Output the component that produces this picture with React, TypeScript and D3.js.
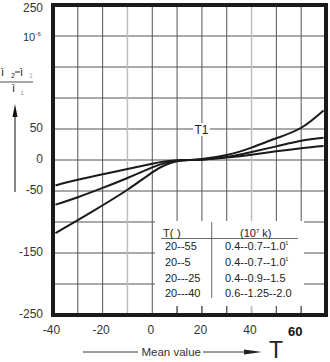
import React from "react";
import * as d3 from "d3";

const xs = [-39, -30, -20, -10, 0, 5, 10, 15, 20, 30, 40, 50, 60, 69];
const curveA = [-41, -32, -23, -14.5, -6, -2.5, -0.5, 0, 0.5, 4, 8.5, 14, 19, 22.5];
const curveB = [-72, -60, -45, -29, -12, -5, -1, 0, 1, 5, 13, 22, 31, 36];
const curveC = [-118, -97, -73, -48, -20, -8.5, -2, 0, 1.5, 8, 20, 35, 52, 80];
const series = [curveA, curveB, curveC];

const xGrid = [-30, -20, -10, 0, 10, 20, 30, 40, 50, 60];
const lightX = [-10, 40];
const yGrid = [200, 150, 100, 50, 0, -50, -100, -150, -200];
const yTickLabels = [250, 50, 0, -50, -150, -250];
const xTickLabels = [-40, -20, 0, 20, 40, 60];

const tableRanges = ["20--55", "20--5", "20---25", "20---40"];
const tableCoefs = ["0.4--0.7--1.0", "0.4--0.7--1.0", "0.4--0.9--1.5", "0.6--1.25--2.0"];
const tableSup = ["1", "1", "", ""];

const FONT = "'Liberation Sans', Arial, sans-serif";

export default function App() {
  const x = d3.scaleLinear().domain([-40, 70]).range([53, 326]);
  const y = d3.scaleLinear().domain([-250, 250]).range([315, 5]);
  const line = d3
    .line<number>()
    .x((_, i) => x(xs[i]))
    .y((d) => y(d))
    .curve(d3.curveNatural);

  const tx0 = 155, tx1 = 304, ty0 = 221, ty1 = 306;
  const rowBase = [250, 266, 281.5, 296.5];

  return (
    <svg width={330} height={362} style={{ position: "absolute", left: 0, top: 0 }} fontFamily={FONT}>
      <rect x={0} y={0} width={330} height={362} fill="#fff" />
      {/* grid */}
      {yGrid.map((v) => (
        <line key={"h" + v} x1={x(-40)} x2={x(70)} y1={y(v)} y2={y(v)} stroke="#555" strokeWidth={1} />
      ))}
      {xGrid.map((v) => (
        <line
          key={"v" + v}
          x1={x(v)}
          x2={x(v)}
          y1={y(250)}
          y2={y(-250)}
          stroke={lightX.includes(v) ? "#bdbdbd" : "#555"}
          strokeWidth={lightX.includes(v) ? 1.5 : 1}
        />
      ))}
      {/* curves */}
      {series.map((s, i) => (
        <path key={"c" + i} d={line(s) || ""} fill="none" stroke="#1a1a1a" strokeWidth={2} />
      ))}
      {/* T1 label */}
      <rect x={193} y={123} width={17} height={13} fill="#fff" />
      <text x={201.5} y={133.5} fontSize={12} textAnchor="middle" fill="#222">T1</text>
      {/* table */}
      <rect x={tx0} y={ty0} width={tx1 - tx0} height={ty1 - ty0} fill="#fff" />
      {xGrid.filter((v) => x(v) > tx0 && x(v) < tx1).map((v) => (
        <line key={"t" + v} x1={x(v)} x2={x(v)} y1={ty1} y2={y(-250)} stroke={lightX.includes(v) ? "#bdbdbd" : "#555"} strokeWidth={lightX.includes(v) ? 1.5 : 1} />
      ))}
      <line x1={161} x2={298} y1={238.5} y2={238.5} stroke="#444" strokeWidth={0.8} />
      <line x1={211.7} x2={211.7} y1={222} y2={298} stroke="#444" strokeWidth={0.8} />
      <text x={163} y={237} fontSize={11} fill="#222">T(</text>
      <text x={177} y={237} fontSize={11} fill="#222">)</text>
      <text x={240} y={237} fontSize={11} fill="#222">
        (10<tspan fontSize={6} dy={-4}>7</tspan>
        <tspan dy={4}> k)</tspan>
      </text>
      {tableRanges.map((r, i) => (
        <text key={"r" + i} x={165} y={rowBase[i]} fontSize={11} fill="#222">{r}</text>
      ))}
      {tableCoefs.map((c, i) => (
        <text key={"k" + i} x={225} y={rowBase[i]} fontSize={11} fill="#222">
          {c}
          {tableSup[i] ? <tspan fontSize={5} dy={-5}>{tableSup[i]}</tspan> : null}
        </text>
      ))}
      {/* frame */}
      <rect x={x(-40)} y={y(250)} width={x(70) - x(-40)} height={y(-250) - y(250)} fill="none" stroke="#1a1a1a" strokeWidth={4} />
      {/* y tick labels */}
      {yTickLabels.map((v) => (
        <text key={"yl" + v} x={43} y={Math.max(y(v) + 3, 12)} fontSize={12} textAnchor="end" fill="#333">{v}</text>
      ))}
      <text x={23} y={41} fontSize={11} fill="#333">10</text>
      <text x={35.5} y={36} fontSize={6} fill="#333">-6</text>
      {/* y axis label */}
      <text x={1} y={76} fontSize={11} fill="#222">ì</text>
      <text x={11} y={78} fontSize={7} fill="#222">2</text>
      <line x1={15} x2={20} y1={72} y2={72} stroke="#222" strokeWidth={1} />
      <text x={20} y={76} fontSize={11} fill="#222">ì</text>
      <text x={29} y={78} fontSize={7} fill="#aaa">1</text>
      <line x1={0} x2={33} y1={82} y2={82} stroke="#222" strokeWidth={0.8} />
      <text x={12} y={92} fontSize={11} fill="#222">ì</text>
      <text x={20.5} y={95} fontSize={6} fill="#888">1</text>
      <line x1={15} x2={15} y1={192} y2={112} stroke="#111" strokeWidth={1} />
      <path d="M15,104 L17.5,117 L12.5,117 Z" fill="#111" />
      {/* x tick labels */}
      {xTickLabels.map((v) =>
        v === 60 ? (
          <text key={"xl" + v} x={x(v) - 6} y={336} fontSize={13} fontWeight="bold" textAnchor="middle" fill="#111">{v}</text>
        ) : (
          <text key={"xl" + v} x={x(v) - 1.5} y={334} fontSize={12} textAnchor="middle" fill="#333">{v}</text>
        )
      )}
      {/* x axis title */}
      <line x1={83} x2={138} y1={352} y2={352} stroke="#222" strokeWidth={0.9} />
      <text x={141.5} y={356} fontSize={11.5} fill="#333">Mean value</text>
      <line x1={203} x2={250} y1={352} y2={352} stroke="#222" strokeWidth={0.9} />
      <path d="M262,352 L244,349.5 L244,354.5 Z" fill="#222" />
      <text x={269} y={358} fontSize={23} fontFamily="'Liberation Sans Narrow', 'Liberation Sans', sans-serif" fill="#222">T</text>
    </svg>
  );
}
